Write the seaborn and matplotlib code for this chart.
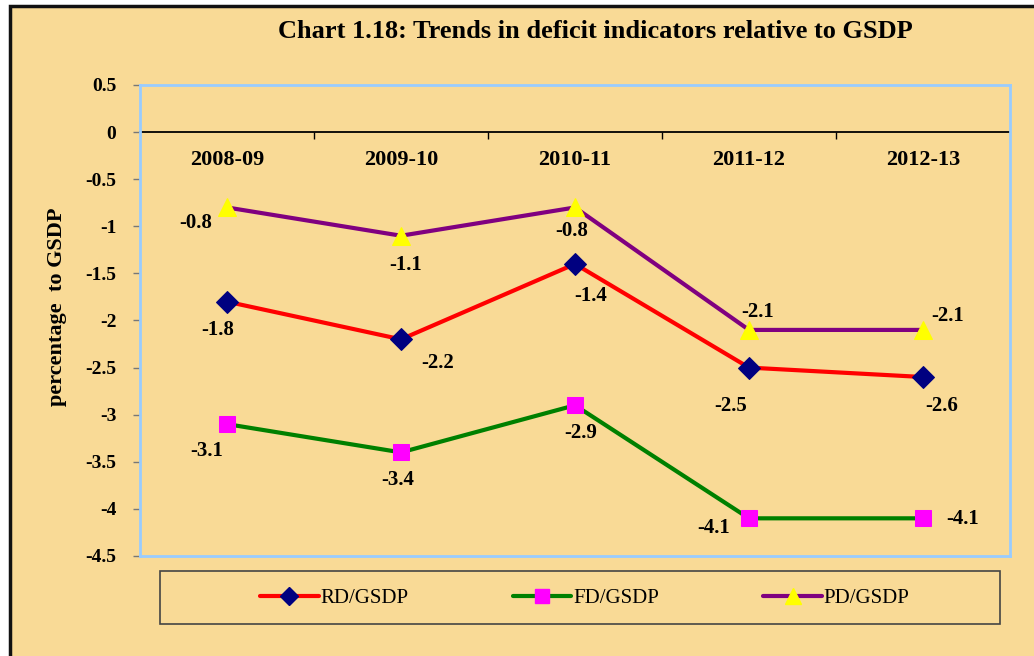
import matplotlib
matplotlib.use("Agg")
import matplotlib.pyplot as plt
import matplotlib.patches as mpatches
from matplotlib.lines import Line2D
import seaborn as sns

# data
years = ["2008-09", "2009-10", "2010-11", "2011-12", "2012-13"]
rd_gsdp = [-1.8, -2.2, -1.4, -2.5, -2.6]
fd_gsdp = [-3.1, -3.4, -2.9, -4.1, -4.1]
pd_gsdp = [-0.8, -1.1, -0.8, -2.1, -2.1]
y_ticks = [0.5, 0, -0.5, -1, -1.5, -2, -2.5, -3, -3.5, -4, -4.5]

# label offsets (pixels) for each point label
rd_offsets = [(-9, -28), (37, -24), (16, -32), (-18, -38), (19, -29)]
fd_offsets = [(-20, -27), (-3, -28), (6, -28), (-35, -10), (40, -1)]
pd_offsets = [(-31, -16), (5, -29), (-3, -24), (9, 18), (25, 14)]

bg = "#F9DA96"
serif = ["Liberation Serif", "DejaVu Serif"]

sns.set_theme(style="white")
plt.rcParams["font.family"] = serif
plt.rcParams["text.color"] = "black"
plt.rcParams["xtick.color"] = "black"
plt.rcParams["ytick.color"] = "black"
plt.rcParams["axes.labelcolor"] = "black"

fig = plt.figure(figsize=(10.34, 6.56), dpi=100)
fig.patch.set_facecolor("white")

# outer frame of the chart
frame = mpatches.Rectangle((9.5 / 1034, -0.05), 1.2, 1 - 5.5 / 656 + 0.05,
                           transform=fig.transFigure, facecolor=bg,
                           edgecolor="#111111", linewidth=2.5, zorder=-10)
fig.patches.append(frame)

ax = fig.add_axes([140 / 1034, 1 - 556 / 656, 870 / 1034, 471 / 656])
ax.set_facecolor(bg)

series = [
    ("RD/GSDP", rd_gsdp, rd_offsets, "#FF0000", "D", "#000080", 11),
    ("FD/GSDP", fd_gsdp, fd_offsets, "#008000", "s", "#FF00FF", 12),
    ("PD/GSDP", pd_gsdp, pd_offsets, "#800080", "^", "#FFFF00", 13),
]

handles = []
for name, vals, offs, lc, mk, mc, ms in series:
    sns.lineplot(x=years, y=vals, ax=ax, color=lc, linewidth=3,
                 marker=mk, markersize=ms, markerfacecolor=mc,
                 markeredgecolor=mc, sort=False, zorder=3)
    for i, v in enumerate(vals):
        ax.annotate(f"{v:g}", (i, v), xytext=offs[i], textcoords="offset pixels",
                    ha="center", va="center", fontsize=15, fontweight="bold",
                    color="black")
    handles.append(Line2D([], [], color=lc, linewidth=3, marker=mk,
                          markersize=ms - 2, markerfacecolor=mc,
                          markeredgecolor=mc))

ymin, ymax = -4.5, 0.5
ax.set_xlim(-0.5, len(years) - 0.5)
ax.set_ylim(ymin, ymax)
ax.set_yticks(y_ticks)
ax.set_yticklabels([f"{t:g}" for t in y_ticks], fontsize=14, fontweight="bold")
ax.tick_params(axis="y", which="major", left=True, length=5, width=1,
               color="#777777", pad=12)
ax.tick_params(axis="x", bottom=False, labelbottom=False)
ax.set_xlabel("")
ax.set_ylabel("percentage  to GSDP", fontsize=16, fontweight="bold")
ax.yaxis.set_label_coords(-0.084, 0.53)
for sp in ax.spines.values():
    sp.set_color("#99CCFF")
    sp.set_linewidth(2)
ax.grid(False)

# category axis drawn on the zero line
zero_pos = (0 - ymin) / (ymax - ymin)
sec = ax.secondary_xaxis(zero_pos)
sec.set_alignment("bottom")
sec.set_xticks(range(len(years)), years)
sec.set_xticks([i + 0.5 for i in range(len(years) - 1)], minor=True)
sec.tick_params(axis="x", which="major", length=0, pad=13, labelsize=16)
sec.tick_params(axis="x", which="minor", bottom=True, length=5, width=1,
                color="black", direction="out")
for lab in sec.get_xticklabels():
    lab.set_fontweight("bold")
sec.spines["bottom"].set_color("black")
sec.spines["bottom"].set_linewidth(1.3)

fig.text(595 / 1034, 1 - 32 / 656, "Chart 1.18: Trends in deficit indicators relative to GSDP",
         ha="center", va="center", fontsize=19, fontweight="bold")

# legend box
legbox = mpatches.Rectangle((160 / 1034, 1 - 624 / 656), 840 / 1034, 53 / 656,
                            transform=fig.transFigure, facecolor=bg,
                            edgecolor="#444444", linewidth=1.2, zorder=-5)
fig.patches.append(legbox)
fig.legend(handles, [s[0] for s in series], loc="center",
           bbox_to_anchor=(585 / 1034, 1 - 598 / 656), ncol=3, frameon=False,
           fontsize=15, handlelength=2.8, handletextpad=0.1, columnspacing=5.0)

fig.savefig("out.png", dpi=100, facecolor=fig.get_facecolor())
